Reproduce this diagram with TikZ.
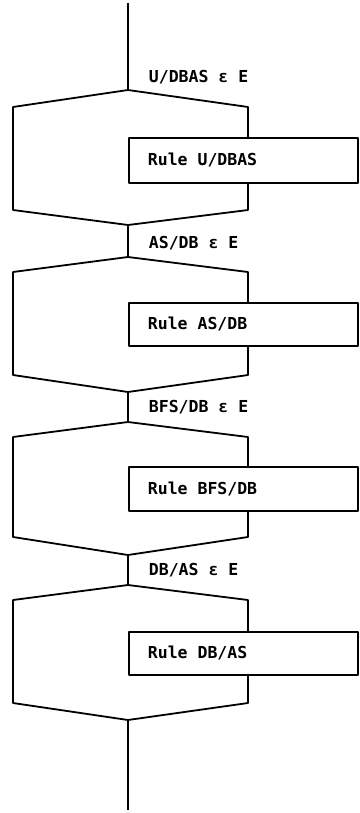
\documentclass[tikz,border=0pt]{standalone}
\usepackage{fontspec}
\setmonofont{DejaVu Sans Mono}
\begin{document}
\begin{tikzpicture}[x=1pt,y=-1pt,line width=1.8pt,line join=round,
  hexa/.style={draw,line width=1.8pt},
  rulebox/.style={draw,fill=white,line width=1.8pt,anchor=north west,minimum width=229pt,inner sep=0pt},
  txt/.style={anchor=west,inner sep=0pt,font=\ttfamily\bfseries\fontsize{16.5}{16.5}\selectfont},
  conn/.style={draw,line width=1.8pt}]
\useasboundingbox (0,0) rectangle (359,813);
\coordinate (start) at (128,3);
\coordinate (finish) at (128,810);
\foreach \t/\s/\b/\a/\rt/\rb/\ly/\lab/\rul/\i in {
  90/107/210/225/137/182/77/{U/DBAS ε E}/{Rule U/DBAS}/1,
  257/272/375/392/302/345/243/{AS/DB ε E}/{Rule AS/DB}/2,
  422/437/537/555/466/510/407/{BFS/DB ε E}/{Rule BFS/DB}/3,
  585/600/703/720/631/674/570/{DB/AS ε E}/{Rule DB/AS}/4}{
  \coordinate (t\i) at (128,\t);
  \coordinate (a\i) at (128,\a);
  \path[hexa] (t\i) -- (248,\s) -- (248,\b) -- (a\i) -- (13,\b) -- (13,\s) -- cycle;
  \pgfmathsetmacro{\hh}{\rb-\rt}
  \node[rulebox,minimum height=\hh pt] (r\i) at (128,\rt) {};
  \node[txt] (rt\i) at ([xshift=19pt]r\i.west) {\rul};
  \node[txt] (l\i) at (148,\ly) {\lab};
}
\path[conn] (start) -- (t1);
\path[conn] (a1) -- (t2);
\path[conn] (a2) -- (t3);
\path[conn] (a3) -- (t4);
\path[conn] (a4) -- (finish);
\end{tikzpicture}
\end{document}
